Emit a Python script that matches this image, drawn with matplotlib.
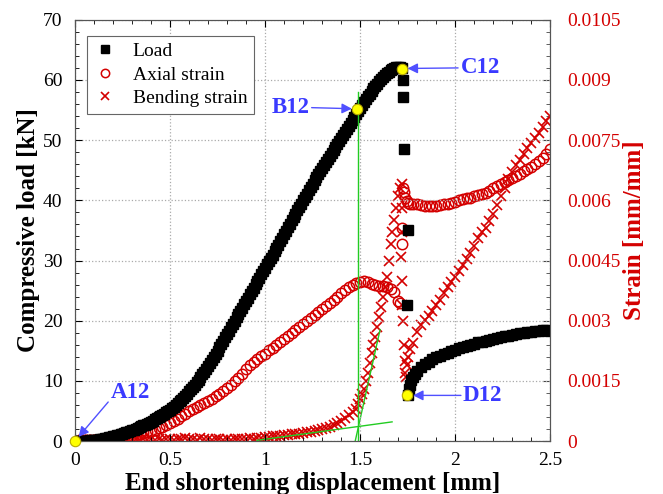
import numpy as np
import matplotlib.pyplot as plt

plt.rcParams['font.family'] = ['Liberation Serif', 'DejaVu Serif']

# sampling steps of the test records [mm]
load_step = 0.01
strain_step = 0.02

# compressive load up to the peak [kN], one value per load_step
load_pre = [0.0, 0.01, 0.02, 0.03, 0.05, 0.06, 0.08, 0.10, 0.12, 0.15,
            0.18, 0.22, 0.26, 0.31, 0.36, 0.42, 0.48, 0.55, 0.62, 0.70,
            0.78, 0.87, 0.96, 1.05, 1.15, 1.25, 1.35, 1.46, 1.57, 1.68,
            1.80, 1.92, 2.05, 2.18, 2.32, 2.46, 2.61, 2.76, 2.92, 3.08,
            3.25, 3.42, 3.60, 3.79, 3.98, 4.18, 4.38, 4.59, 4.80, 5.02,
            5.25, 5.50, 5.75, 6.02, 6.30, 6.60, 6.90, 7.22, 7.55, 7.90,
            8.25, 8.62, 9.00, 9.40, 9.80, 10.22, 10.65, 11.10, 11.55, 12.02,
            12.50, 13.00, 13.50, 14.00, 14.50, 15.05, 15.60, 16.15, 16.70, 17.25,
            17.80, 18.35, 18.90, 19.45, 20.00, 20.55, 21.10, 21.65, 22.20, 22.75,
            23.30, 23.85, 24.40, 24.95, 25.50, 26.05, 26.60, 27.15, 27.70, 28.25,
            28.80, 29.35, 29.90, 30.45, 31.00, 31.55, 32.10, 32.65, 33.20, 33.80,
            34.40, 34.95, 35.50, 36.10, 36.70, 37.25, 37.80, 38.35, 38.90, 39.45,
            40.00, 40.55, 41.10, 41.65, 42.20, 42.75, 43.30, 43.80, 44.30, 44.85,
            45.40, 45.90, 46.40, 46.90, 47.40, 47.90, 48.40, 48.90, 49.40, 49.90,
            50.40, 50.90, 51.40, 51.90, 52.40, 52.90, 53.40, 53.90, 54.40, 54.90,
            55.40, 55.90, 56.40, 56.85, 57.30, 57.75, 58.20, 58.60, 59.00, 59.40,
            59.80, 60.15, 60.50, 60.80, 61.10, 61.35, 61.60, 61.80, 62.00, 62.10,
            62.20, 62.15, 62.00]
# load drop right after the peak
disp_drop = [1.726, 1.727, 1.730, 1.752, 1.749]
load_drop = [60.0, 57.2, 48.6, 35.0, 22.6]
# post-buckling branch
disp_post = [1.750, 1.755, 1.760, 1.770, 1.780, 1.790, 1.800, 1.820, 1.840,
             1.860, 1.880, 1.900, 1.920, 1.940, 1.960, 1.980, 2.000, 2.020,
             2.040, 2.060, 2.080, 2.100, 2.120, 2.140, 2.160, 2.180, 2.200,
             2.220, 2.240, 2.260, 2.280, 2.300, 2.320, 2.340, 2.360, 2.380,
             2.400, 2.420, 2.440, 2.460, 2.480, 2.500]
load_post = [7.6, 8.6, 9.4, 10.1, 10.7, 11.2, 11.6, 12.3, 12.8,
             13.2, 13.6, 13.9, 14.2, 14.4, 14.7, 14.9, 15.2, 15.4,
             15.6, 15.8, 16.0, 16.2, 16.4, 16.5, 16.7, 16.8, 17.0,
             17.1, 17.3, 17.4, 17.5, 17.7, 17.8, 17.9, 18.0, 18.1,
             18.2, 18.3, 18.3, 18.4, 18.4, 18.3]

# axial strain [mm/mm], one value per strain_step
axial_pre = [0.0, 0.00001, 0.00002, 0.00002, 0.00003, 0.00003, 0.00004,
             0.00005, 0.00006, 0.00007, 0.00008, 0.00009, 0.0001, 0.00011,
             0.00012, 0.00013, 0.00015, 0.00018, 0.0002, 0.00023, 0.00026,
             0.00029, 0.00032, 0.00036, 0.0004, 0.00045, 0.0005, 0.00056,
             0.00062, 0.00068, 0.00074, 0.0008, 0.00085, 0.0009, 0.00095,
             0.001, 0.00106, 0.00112, 0.00118, 0.00125, 0.00132, 0.0014,
             0.00149, 0.00158, 0.00168, 0.0018, 0.00189, 0.00196, 0.00204,
             0.00211, 0.00218, 0.00226, 0.00233, 0.0024, 0.00248, 0.00255,
             0.00263, 0.0027, 0.00277, 0.00285, 0.00292, 0.003, 0.00307,
             0.00314, 0.00322, 0.00329, 0.00337, 0.00344, 0.00352, 0.0036,
             0.00368, 0.00376, 0.00383, 0.00389, 0.00394, 0.00397, 0.00398,
             0.00396, 0.00392, 0.00389, 0.00387, 0.00386, 0.00384, 0.0038,
             0.00372, 0.0035]
disp_axial_post = [1.710, 1.718, 1.721, 1.727, 1.733, 1.738, 1.745, 1.752,
                   1.760, 1.780, 1.800, 1.820, 1.840, 1.860, 1.880, 1.900,
                   1.920, 1.940, 1.960, 1.980, 2.000, 2.020, 2.040, 2.060,
                   2.080, 2.100, 2.120, 2.140, 2.160, 2.180, 2.200, 2.220,
                   2.240, 2.260, 2.280, 2.300, 2.320, 2.340, 2.360, 2.380,
                   2.400, 2.420, 2.440, 2.460, 2.480, 2.500]
axial_post = [0.00344, 0.0049, 0.0053, 0.0063, 0.0062, 0.00605, 0.00598,
              0.00594, 0.0059, 0.00592, 0.0059, 0.00588, 0.00586, 0.00585,
              0.00585, 0.00586, 0.00588, 0.0059, 0.00592, 0.00594, 0.00597,
              0.006, 0.00603, 0.00605, 0.00607, 0.0061, 0.00613, 0.00616,
              0.00619, 0.00624, 0.0063, 0.00636, 0.0064, 0.00645, 0.0065,
              0.00655, 0.0066, 0.00665, 0.00672, 0.00678, 0.00684, 0.0069,
              0.00698, 0.00706, 0.00715, 0.00728]

# bending strain [mm/mm], one value per strain_step up to 1.48 mm
bend_pre = [0.0, 0.00003, 0.00002, 0.00004, 0.00003, 0.00002, 0.00004,
            0.00003, 0.00005, 0.00003, 0.00004, 0.00002, 0.00004, 0.00005,
            0.00003, 0.00004, 0.00005, 0.00003, 0.00005, 0.00004, 0.00006,
            0.00004, 0.00005, 0.00003, 0.00005, 0.00006, 0.00004, 0.00006,
            0.00005, 0.00007, 0.00005, 0.00006, 0.00004, 0.00007, 0.00005,
            0.00006, 0.00004, 0.00006, 0.00005, 0.00004, 0.00006, 0.00004,
            0.00005, 0.00006, 0.00005, 0.00006, 0.00007, 0.00006, 0.00008,
            0.00009, 0.0001, 0.00011, 0.00012, 0.00013, 0.00014, 0.00015,
            0.00016, 0.00017, 0.00018, 0.00019, 0.0002, 0.00022, 0.00024,
            0.00026, 0.00028, 0.0003, 0.00033, 0.00036, 0.0004, 0.00045,
            0.00051, 0.00057, 0.00064, 0.00072, 0.00081]
# steep rise before the peak load
disp_bend_rise = [1.49, 1.50, 1.51, 1.52, 1.53, 1.54, 1.55, 1.56, 1.57,
                  1.58, 1.59, 1.60, 1.61, 1.62, 1.63, 1.64, 1.65, 1.66,
                  1.67, 1.68, 1.69, 1.70, 1.71, 1.72]
bend_rise = [0.00092, 0.00105, 0.00118, 0.0013, 0.0015, 0.0017, 0.00195,
             0.0022, 0.0024, 0.0026, 0.00285, 0.0031, 0.00335, 0.0036,
             0.00385, 0.0041, 0.0045, 0.0049, 0.0052, 0.0055, 0.0058,
             0.0061, 0.0063, 0.0064]
disp_bend_post = [1.722, 1.718, 1.716, 1.719, 1.722, 1.728, 1.732, 1.735,
                  1.737, 1.740, 1.745, 1.750, 1.760, 1.780, 1.800, 1.820,
                  1.840, 1.860, 1.880, 1.900, 1.920, 1.940, 1.960, 1.980,
                  2.000, 2.020, 2.040, 2.060, 2.080, 2.100, 2.120, 2.140,
                  2.160, 2.180, 2.200, 2.220, 2.240, 2.260, 2.280, 2.300,
                  2.320, 2.340, 2.360, 2.380, 2.400, 2.420, 2.440, 2.460,
                  2.480, 2.500]
bend_post = [0.0058, 0.0052, 0.0046, 0.0040, 0.0034, 0.0030, 0.0024,
             0.0020, 0.0017, 0.0016, 0.0019, 0.0021, 0.0023, 0.00245,
             0.00272, 0.0029, 0.00303, 0.00313, 0.00325, 0.00338, 0.00352,
             0.00368, 0.00383, 0.00396, 0.0041, 0.00425, 0.0044, 0.00455,
             0.0047, 0.00487, 0.00505, 0.0052, 0.00532, 0.00548, 0.00567,
             0.00588, 0.0061, 0.0063, 0.00652, 0.0067, 0.00687, 0.007,
             0.00715, 0.0073, 0.00744, 0.00756, 0.00767, 0.00782, 0.00797,
             0.00811]

# key points A12-D12 on the load curve
key_names = ['A12', 'B12', 'C12', 'D12']
key_disp = [0.0, 1.486, 1.72, 1.749]
key_load = [0.0, 55.2, 61.9, 7.6]

# construction lines for the bifurcation point
vert_x = [1.488, 1.488]
vert_load = [0.0, 58.0]
steep_x = [1.474, 1.605]
steep_strain = [0.0, 0.00278]
flat_x = [0.958, 1.668]
flat_strain = [0.00002, 0.00048]

red = '#d40000'
blue = '#3a3aff'
green = '#22cc22'

disp_pre = np.arange(len(load_pre)) * load_step
disp_axial = np.arange(len(axial_pre)) * strain_step
disp_bend = np.arange(len(bend_pre)) * strain_step

fig = plt.figure(figsize=(6.63, 4.94), dpi=100)
ax = fig.add_axes([0.113, 0.107, 0.717, 0.853])
ax2 = ax.twinx()

ax.set_zorder(ax2.get_zorder() + 1)
ax.patch.set_visible(False)

# strains on the right axis
ax2.plot(np.concatenate([disp_axial, disp_axial_post]),
         np.concatenate([axial_pre, axial_post]),
         'o', ms=7.5, mfc='none', mec=red, mew=1.1, label='Axial strain')
ax2.plot(np.concatenate([disp_bend, disp_bend_rise, disp_bend_post]),
         np.concatenate([bend_pre, bend_rise, bend_post]),
         'x', ms=7, mec=red, mew=1.2, label='Bending strain')
ax2.plot(steep_x, steep_strain, color=green, lw=1)
ax2.plot(flat_x, flat_strain, color=green, lw=1)

# load on the left axis
ax.plot(np.concatenate([disp_pre, disp_drop, disp_post]),
        np.concatenate([load_pre, load_drop, load_post]),
        's', ms=7.4, color='black', mec='black', label='Load')
ax.plot(vert_x, vert_load, color=green, lw=1)
ax.plot(key_disp, key_load, 'o', ms=7.5, mfc='#ffff00', mec='#b8a800',
        mew=0.8, zorder=5, clip_on=False)

ax.set_xlim(0, 2.5)
ax.set_ylim(0, 70)
ax2.set_ylim(0, 0.0105)
ax.set_xticks([0, 0.5, 1, 1.5, 2, 2.5])
ax.set_xticklabels(['0', '0.5', '1', '1.5', '2', '2.5'])
ax.set_yticks(range(0, 71, 10))
ax.set_xticks(np.arange(0, 2.51, 0.1), minor=True)
ax.set_yticks(range(0, 71, 2), minor=True)
strain_ticks = [0, 0.0015, 0.003, 0.0045, 0.006, 0.0075, 0.009, 0.0105]
ax2.set_yticks(strain_ticks)
ax2.set_yticklabels(['0', '0.0015', '0.003', '0.0045', '0.006', '0.0075',
                     '0.009', '0.0105'])
ax2.set_yticks(np.arange(0, 0.01051, 0.0003), minor=True)

ax.tick_params(which='both', direction='in', top=True, labelsize=14,
               colors='black')
ax.tick_params(axis='y', which='major', length=5, pad=9)
ax.tick_params(axis='x', which='major', length=5, pad=8)
ax.tick_params(which='minor', length=3)
ax2.tick_params(which='both', direction='in', labelsize=14,
                labelcolor=red, color='#444444')
ax2.tick_params(which='major', length=5, pad=12)
ax2.tick_params(which='minor', length=3)
for a in (ax, ax2):
    for s in a.spines.values():
        s.set_color('#555555')

ax.grid(True, which='major', linestyle=':', color='#aaaaaa', lw=0.9)

ax.set_xlabel('End shortening displacement [mm]', fontsize=18,
              fontweight='bold', labelpad=2)
ax.set_ylabel('Compressive load [kN]', fontsize=18, fontweight='bold',
              labelpad=2)
ax2.set_ylabel('Strain [mm/mm]', fontsize=18, fontweight='bold', color=red,
               labelpad=2)

# legend gathers both axes
h1, l1 = ax.get_legend_handles_labels()
h2, l2 = ax2.get_legend_handles_labels()
leg = ax.legend(h1[:1] + h2, l1[:1] + l2, loc='upper left',
                bbox_to_anchor=(0.005, 0.985), fontsize=14, fancybox=False,
                edgecolor='#666666', framealpha=1, handlelength=1.2,
                handletextpad=0.8, borderpad=0.35, labelspacing=0.3,
                markerscale=0.8)
leg.get_frame().set_linewidth(0.8)

# labels for the key points: text anchor, alignment and arrow tail
text_pos = [(0.29, 8.1), (1.235, 55.4), (2.03, 62.0), (2.04, 7.6)]
text_ha = ['center', 'right', 'left', 'left']
arrow_from = [(0.175, 6.5), (1.245, 55.4), (2.015, 62.0), (2.03, 7.6)]
for name, x, y, (tx, ty), ha, (fx, fy) in zip(key_names, key_disp, key_load,
                                              text_pos, text_ha, arrow_from):
    ax.text(tx, ty, name, color=blue, fontsize=16.5, fontweight='bold',
            ha=ha, va='center', zorder=6)
    ax.annotate('', xy=(x, y), xytext=(fx, fy),
                arrowprops=dict(arrowstyle='-|>', color='#5050ff', lw=1,
                                mutation_scale=15, shrinkA=0, shrinkB=4),
                zorder=6)

fig.savefig('out.png', dpi=100)
